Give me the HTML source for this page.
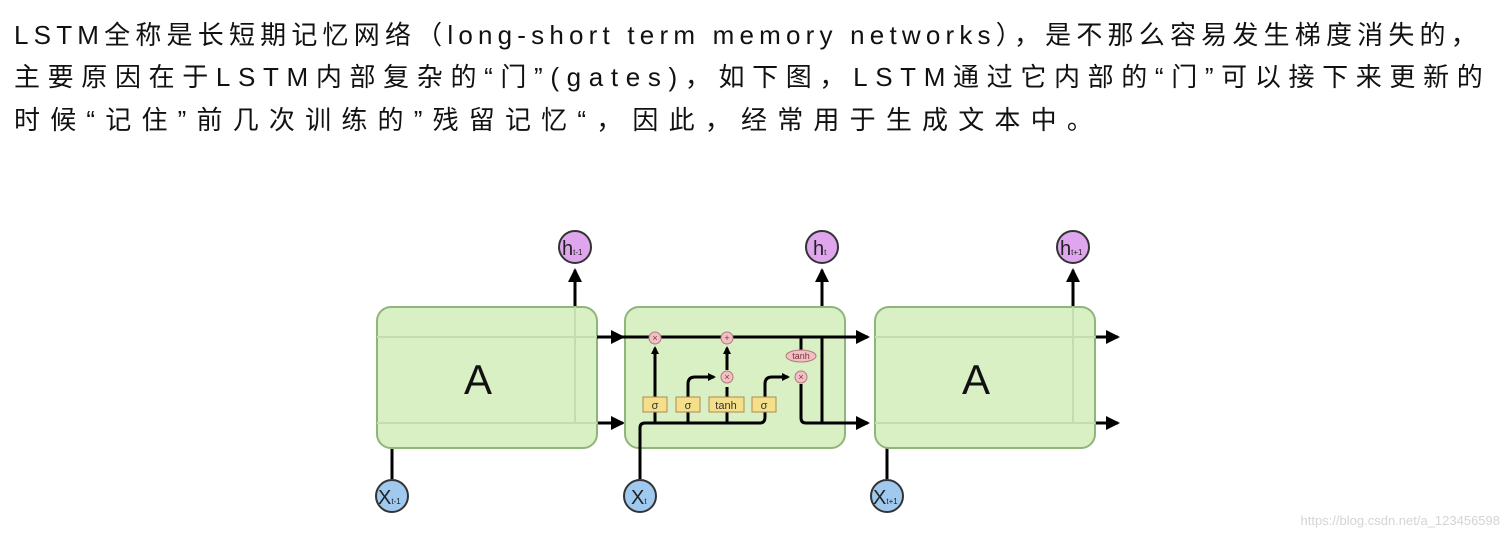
<!DOCTYPE html>
<html><head><meta charset="utf-8"><style>
html,body{margin:0;padding:0;background:#fff;width:1509px;height:538px;overflow:hidden}
.t{position:absolute;left:14px;font-family:"Liberation Sans","Noto Sans CJK SC",sans-serif;font-size:26px;line-height:42.5px;color:#111;white-space:nowrap}
svg{position:absolute;left:0;top:0}
</style></head><body>
<div class="t" style="top:14px;letter-spacing:5.2px">LSTM全称是长短期记忆网络（long-short term memory networks），是不那么容易发生梯度消失的，</div>
<div class="t" style="top:56px;letter-spacing:7.65px">主要原因在于LSTM内部复杂的“门”(gates)，如下图，LSTM通过它内部的“门”可以接下来更新的</div>
<div class="t" style="top:99px;letter-spacing:10.2px">时候“记住”前几次训练的”残留记忆“，因此，经常用于生成文本中。</div>
<svg width="1509" height="538" viewBox="0 0 1509 538" font-family="Liberation Sans,sans-serif">
<defs><marker id="a" markerWidth="8" markerHeight="8" refX="6" refY="4" orient="auto" markerUnits="userSpaceOnUse"><path d="M0,0L8,4L0,8z" fill="#000"/></marker>
<marker id="b" markerWidth="14" markerHeight="14" refX="12" refY="7" orient="auto" markerUnits="userSpaceOnUse"><path d="M0,0L14,7L0,14z" fill="#000"/></marker></defs>
<g stroke="#000" stroke-width="3" fill="none">
<line x1="575" y1="307" x2="575" y2="270" marker-end="url(#b)"/>
<line x1="822" y1="330" x2="822" y2="270" marker-end="url(#b)"/>
<line x1="1073" y1="307" x2="1073" y2="270" marker-end="url(#b)"/>
<line x1="597" y1="337" x2="623" y2="337" marker-end="url(#b)"/>
<line x1="597" y1="423" x2="623" y2="423" marker-end="url(#b)"/>
<line x1="1095" y1="337" x2="1118" y2="337" marker-end="url(#b)"/>
<line x1="1095" y1="423" x2="1118" y2="423" marker-end="url(#b)"/>
<line x1="392" y1="447" x2="392" y2="479"/>
<line x1="887" y1="447" x2="887" y2="479"/>
</g>
<rect x="377" y="307" width="220" height="141" rx="14" fill="#d9efc4" stroke="#8fb57a" stroke-width="2"/>
<rect x="625" y="307" width="220" height="141" rx="14" fill="#d9efc4" stroke="#8fb57a" stroke-width="2"/>
<rect x="875" y="307" width="220" height="141" rx="14" fill="#d9efc4" stroke="#8fb57a" stroke-width="2"/>
<g stroke="#c4dcb0" stroke-width="2" fill="none">
<line x1="377" y1="337" x2="597" y2="337"/><line x1="377" y1="423" x2="597" y2="423"/>
<line x1="875" y1="337" x2="1095" y2="337"/><line x1="875" y1="423" x2="1095" y2="423"/>
<line x1="575" y1="307" x2="575" y2="423"/><line x1="1073" y1="307" x2="1073" y2="423"/>
</g>
<text x="478" y="394" font-size="42" text-anchor="middle" fill="#111">A</text>
<text x="976" y="394" font-size="42" text-anchor="middle" fill="#111">A</text>
<g stroke="#000" stroke-width="3" fill="none">
<line x1="597" y1="337" x2="868" y2="337" marker-end="url(#b)"/>
<path d="M640,479V428q0,-5 5,-5H760q5,0 5,-6V384q0,-7 7,-7H788" marker-end="url(#a)"/>
<path d="M655,423V348" marker-end="url(#a)"/>
<path d="M688,423V384q0,-7 7,-7H714" marker-end="url(#a)"/>
<path d="M727,423V387"/>
<path d="M727,370V348" marker-end="url(#a)"/>
<path d="M801,337V350"/>
<path d="M801,384V418q0,5 5,5H868" marker-end="url(#b)"/>
<path d="M822,337V423"/>
</g>
<g stroke="#b08a50" stroke-width="1" fill="#f4df8a">
<rect x="643" y="397" width="24" height="15"/><rect x="676" y="397" width="24" height="15"/>
<rect x="709" y="397" width="35" height="15"/><rect x="752" y="397" width="24" height="15"/>
</g>
<g font-size="11" text-anchor="middle" fill="#333">
<text x="655" y="409">σ</text><text x="688" y="409">σ</text><text x="726" y="409">tanh</text><text x="764" y="409">σ</text>
</g>
<g fill="#f2c0c4" stroke="#b07a80" stroke-width="1">
<circle cx="655" cy="338" r="6"/><circle cx="727" cy="338" r="6"/><circle cx="727" cy="377" r="6"/><circle cx="801" cy="377" r="6"/>
<ellipse cx="801" cy="356" rx="15" ry="6"/>
</g>
<g font-size="9" text-anchor="middle" fill="#733">
<text x="655" y="341">×</text><text x="727" y="341">+</text><text x="727" y="380">×</text><text x="801" y="380">×</text><text x="801" y="359">tanh</text>
</g>
<g fill="#dfa6ee" stroke="#333" stroke-width="2">
<circle cx="575" cy="247" r="16"/><circle cx="822" cy="247" r="16"/><circle cx="1073" cy="247" r="16"/>
</g>
<g fill="#9fc9ee" stroke="#333" stroke-width="2">
<circle cx="392" cy="496" r="16"/><circle cx="640" cy="496" r="16"/><circle cx="887" cy="496" r="16"/>
</g>
<g font-size="20" fill="#222">
<text x="562" y="255">h<tspan font-size="8">t-1</tspan></text>
<text x="813" y="255">h<tspan font-size="8">t</tspan></text>
<text x="1060" y="255">h<tspan font-size="8">t+1</tspan></text>
<text x="378" y="504">X<tspan font-size="8">t-1</tspan></text>
<text x="631" y="504">X<tspan font-size="8">t</tspan></text>
<text x="873" y="504">X<tspan font-size="8">t+1</tspan></text>
</g>
<text x="1500" y="525" font-size="13" text-anchor="end" fill="#d4d4d4">https://blog.csdn.net/a_123456598</text>
</svg>
</body></html>
